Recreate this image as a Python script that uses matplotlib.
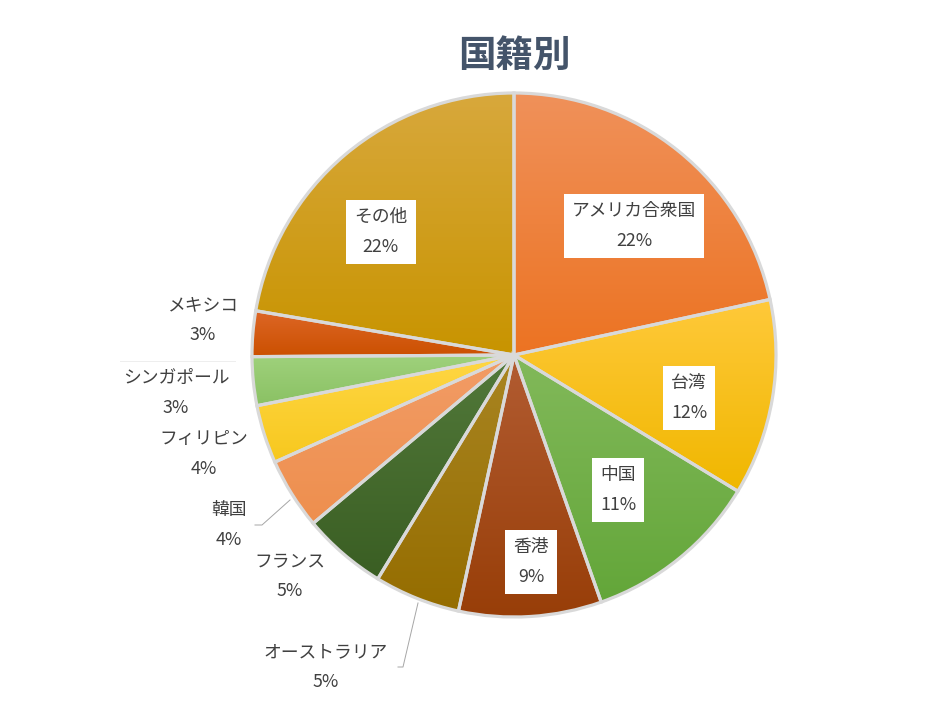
import numpy as np
import matplotlib
matplotlib.use("Agg")
import matplotlib.pyplot as plt
from matplotlib.colors import LinearSegmentedColormap

plt.rcParams["font.family"] = ["Noto Sans CJK JP", "DejaVu Sans"]

# データ (%)
countries = ["アメリカ合衆国", "台湾", "中国", "香港", "オーストラリア", "フランス",
             "韓国", "フィリピン", "シンガポール", "メキシコ", "その他"]
shares = [21.6, 12.1, 10.9, 8.8, 5.3, 5.2, 4.4, 3.6, 3.0, 2.8, 22.3]

# 色 (上端, 下端のグラデーション)
top_colors = ["#F0915A", "#FFC93A", "#82B95A", "#B25C32", "#A98522", "#52793A",
              "#F29C66", "#FFD745", "#9FD17C", "#DD6626", "#D8A83C"]
bottom_colors = ["#EC7322", "#F0B700", "#63A639", "#983E08", "#956D00", "#3A5E23",
                 "#EE8F4E", "#F7C81E", "#8AC163", "#CB5000", "#C89400"]

# ラベル位置 (データ座標)
label_pos = [(0.458, 0.492), (0.668, -0.164), (0.397, -0.515), (0.065, -0.790),
             (-0.718, -1.191), (-0.855, -0.844), (-1.088, -0.649), (-1.183, -0.378),
             (-1.290, -0.145), (-1.187, 0.134), (-0.508, 0.469)]
boxed = [True, True, True, True, False, False, False, False, False, False, True]

cx, cy, R = 514, 355, 262  # 画素での円の中心と半径
def px(x, y):
    return (x - cx) / R, (cy - y) / R

fig = plt.figure(figsize=(9.4, 7.17), dpi=100)
ax = fig.add_axes([0, 0, 1, 1])

wedges, _ = ax.pie(shares, startangle=90, counterclock=False, radius=1,
                   wedgeprops=dict(edgecolor="#D9D9D9", linewidth=2.3))

for w, c1, c2 in zip(wedges, top_colors, bottom_colors):
    th = np.radians(np.linspace(w.theta1, w.theta2, 60))
    xs = np.concatenate([[0], np.cos(th)])
    ys = np.concatenate([[0], np.sin(th)])
    cmap = LinearSegmentedColormap.from_list("g", [c1, c2])
    grad = np.linspace(0, 1, 200).reshape(-1, 1)
    im = ax.imshow(grad, cmap=cmap, extent=[xs.min(), xs.max(), ys.min(), ys.max()],
                   origin="upper", aspect="auto", zorder=1)
    im.set_clip_path(w)
    w.set_facecolor("none")
    w.set_zorder(2)

# ラベル
for name, v, (lx, ly), b in zip(countries, shares, label_pos, boxed):
    kw = {}
    if b:
        kw["bbox"] = dict(boxstyle="square,pad=0.45", fc="white", ec="none")
    ax.text(lx, ly, f"{name}\n{round(v)}%", ha="center", va="center", fontsize=12.8,
            color="#404040", linespacing=1.85, zorder=5, **kw)

# 引き出し線
lines = [[(255, 525), (262, 525), (290, 500)],
         [(398, 667), (403, 667), (418, 603)]]
for pts in lines:
    p = [px(*q) for q in pts]
    ax.plot([a for a, b in p], [b for a, b in p], color="#A6A6A6", lw=0.7, zorder=3)
p = [px(120, 361), px(235, 361)]
ax.plot([p[0][0], p[1][0]], [p[0][1], p[1][1]], color="#EEEEEE", lw=0.7, zorder=3)

ax.text(0, (cy - 55) / R, "国籍別", ha="center", va="center", fontsize=27,
        fontweight="bold", color="#44546A")

ax.set_xlim(-cx / R, (940 - cx) / R)
ax.set_ylim((cy - 717) / R, cy / R)
ax.set_aspect("auto")
ax.axis("off")

fig.savefig("out.png", dpi=100)
